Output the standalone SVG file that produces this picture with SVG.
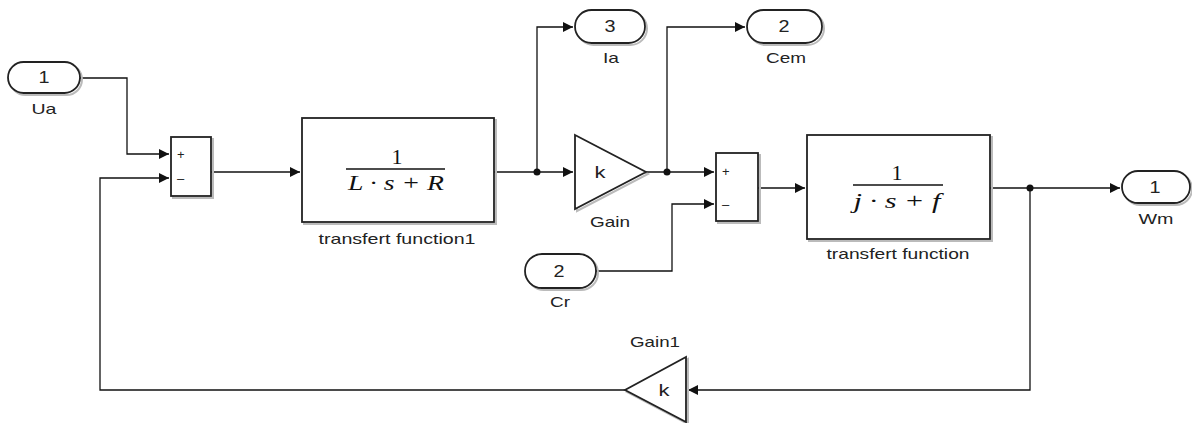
<svg xmlns="http://www.w3.org/2000/svg" width="1192" height="423" viewBox="0 0 1192 423">
<defs>
<style>
.blk{fill:#fff;stroke:#222;stroke-width:1.8}
.sh{fill:none;stroke:#bbb;stroke-width:2}
.ln{fill:none;stroke:#111;stroke-width:1.3}
.lbl{font-family:"Liberation Sans",Arial,sans-serif;font-size:15px;fill:#222;text-anchor:middle}
.num{font-family:"Liberation Sans",Arial,sans-serif;font-size:16px;fill:#222;text-anchor:middle;dominant-baseline:central}
.sgn{font-family:"Liberation Sans",Arial,sans-serif;font-size:13px;fill:#222}
.math{font-family:"Liberation Serif","Times New Roman",serif;font-size:22px;fill:#111;text-anchor:middle}
.dot{fill:#111}
</style>
<marker id="ar" viewBox="0 0 10 10" refX="10" refY="5" markerWidth="10" markerHeight="10" markerUnits="userSpaceOnUse" orient="auto">
<path d="M0,0 L10,5 L0,10 z" fill="#111"/>
</marker>
</defs>

<g id="connectors">
<path class="ln" d="M80,78 H127 V154 H169" marker-end="url(#ar)"/>
<path class="ln" d="M211,172 H300" marker-end="url(#ar)"/>
<path class="ln" d="M494,172 H573" marker-end="url(#ar)"/>
<path class="ln" d="M537,172 V27 H573" marker-end="url(#ar)"/>
<path class="ln" d="M646,172 H714" marker-end="url(#ar)"/>
<path class="ln" d="M667,172 V27 H745" marker-end="url(#ar)"/>
<path class="ln" d="M596,271 H672 V204 H714" marker-end="url(#ar)"/>
<path class="ln" d="M758,188 H805" marker-end="url(#ar)"/>
<path class="ln" d="M990,188 H1120" marker-end="url(#ar)"/>
<path class="ln" d="M1030,188 V390 H688" marker-end="url(#ar)"/>
<path class="ln" d="M625,390 H100 V178 H169" marker-end="url(#ar)"/>
<circle class="dot" cx="537" cy="172" r="3.5"/>
<circle class="dot" cx="667" cy="172" r="3.5"/>
<circle class="dot" cx="1030" cy="188" r="3.5"/>
</g>

<g id="Ua">
<rect class="sh" x="10" y="64" width="72" height="31" rx="15.5"/>
<rect class="blk" x="8" y="62" width="72" height="31" rx="15.5"/>
<text class="num" x="44" y="77" textLength="11" lengthAdjust="spacingAndGlyphs">1</text>
<text class="lbl" x="44" y="114" textLength="25" lengthAdjust="spacingAndGlyphs">Ua</text>
</g>

<g id="Sum1">
<rect class="sh" x="173" y="139" width="40" height="59"/>
<rect class="blk" x="171" y="137" width="40" height="59"/>
<text class="sgn" x="177" y="159">+</text>
<text class="sgn" x="177" y="183">–</text>
</g>

<g id="TF1">
<rect class="sh" x="304" y="120" width="192" height="104"/>
<rect class="blk" x="302" y="118" width="192" height="104"/>
<text class="math" x="397" y="164">1</text>
<line x1="346" y1="169" x2="445" y2="169" stroke="#111" stroke-width="1.3"/>
<text class="math" x="396" y="190" font-style="italic" textLength="96" lengthAdjust="spacingAndGlyphs">L · s + R</text>
<text class="lbl" x="397" y="244" textLength="157" lengthAdjust="spacingAndGlyphs">transfert function1</text>
</g>

<g id="Ia">
<rect class="sh" x="577" y="12" width="70" height="33" rx="16.5"/>
<rect class="blk" x="575" y="10" width="70" height="33" rx="16.5"/>
<text class="num" x="610" y="26" textLength="11" lengthAdjust="spacingAndGlyphs">3</text>
<text class="lbl" x="611" y="63" textLength="16" lengthAdjust="spacingAndGlyphs">Ia</text>
</g>

<g id="Gain">
<path class="sh" d="M577,137 L648,174 L577,211 z"/>
<path class="blk" d="M575,135 L646,172 L575,209 z"/>
<text class="num" x="600" y="172" textLength="11" lengthAdjust="spacingAndGlyphs">k</text>
<text class="lbl" x="610" y="227" textLength="40" lengthAdjust="spacingAndGlyphs">Gain</text>
</g>

<g id="Cem">
<rect class="sh" x="749" y="12" width="75" height="33" rx="16.5"/>
<rect class="blk" x="747" y="10" width="75" height="33" rx="16.5"/>
<text class="num" x="784" y="26" textLength="11" lengthAdjust="spacingAndGlyphs">2</text>
<text class="lbl" x="786" y="63" textLength="40" lengthAdjust="spacingAndGlyphs">Cem</text>
</g>

<g id="Sum2">
<rect class="sh" x="718" y="155" width="42" height="68"/>
<rect class="blk" x="716" y="153" width="42" height="68"/>
<text class="sgn" x="722" y="176">+</text>
<text class="sgn" x="722" y="209">–</text>
</g>

<g id="Cr">
<rect class="sh" x="527" y="256" width="71" height="34" rx="17"/>
<rect class="blk" x="525" y="254" width="71" height="34" rx="17"/>
<text class="num" x="559" y="271" textLength="11" lengthAdjust="spacingAndGlyphs">2</text>
<text class="lbl" x="560" y="307" textLength="20" lengthAdjust="spacingAndGlyphs">Cr</text>
</g>

<g id="TF2">
<rect class="sh" x="809" y="137" width="183" height="104"/>
<rect class="blk" x="807" y="135" width="183" height="104"/>
<text class="math" x="897" y="180">1</text>
<line x1="853" y1="185" x2="943" y2="185" stroke="#111" stroke-width="1.3"/>
<text class="math" x="897" y="208" font-style="italic" textLength="87" lengthAdjust="spacingAndGlyphs">j · s + f</text>
<text class="lbl" x="898" y="259" textLength="143" lengthAdjust="spacingAndGlyphs">transfert function</text>
</g>

<g id="Wm">
<rect class="sh" x="1124" y="173" width="68" height="32" rx="16"/>
<rect class="blk" x="1122" y="171" width="68" height="32" rx="16"/>
<text class="num" x="1155" y="187" textLength="11" lengthAdjust="spacingAndGlyphs">1</text>
<text class="lbl" x="1156" y="224" textLength="35" lengthAdjust="spacingAndGlyphs">Wm</text>
</g>

<g id="Gain1">
<path class="sh" d="M688,359 L688,424 L627,392 z"/>
<path class="blk" d="M686,357 L686,422 L625,390 z"/>
<text class="num" x="664" y="390" textLength="11" lengthAdjust="spacingAndGlyphs">k</text>
<text class="lbl" x="655" y="347" textLength="50" lengthAdjust="spacingAndGlyphs">Gain1</text>
</g>
</svg>
